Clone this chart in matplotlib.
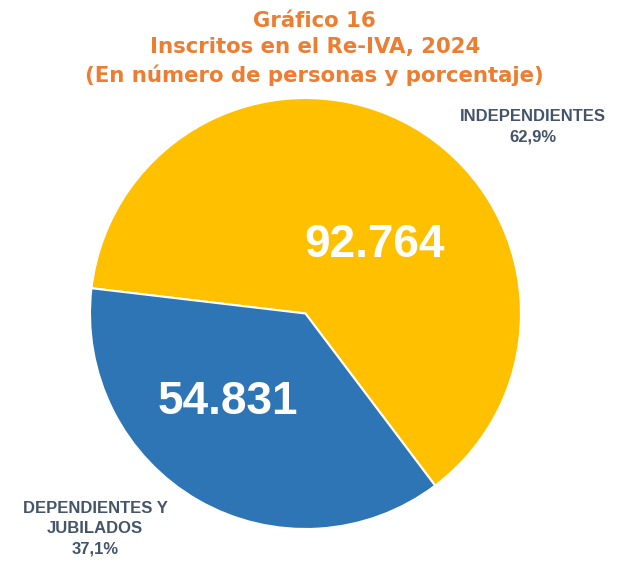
import matplotlib.pyplot as plt

# data
categorias = ['INDEPENDIENTES', 'DEPENDIENTES Y\nJUBILADOS']
personas = [92764, 54831]
porcentajes = ['62,9%', '37,1%']
colores = ['#FFC000', '#2E75B6']

fig = plt.figure(figsize=(6.21, 5.63), dpi=100)
ax = fig.add_axes([0.1449, 0.0604, 0.694, 0.7655])

wedges, _ = ax.pie(personas, colors=colores, startangle=-53, counterclock=True,
                   wedgeprops={'edgecolor': 'white', 'linewidth': 1.5})
ax.set_xlim(-1, 1)
ax.set_ylim(-1, 1)
ax.set_aspect('equal')
ax.axis('off')

# numbers inside slices
num_pos = [(0.3225, 0.318), (-0.36, -0.41)]
for n, (x, y) in zip(personas, num_pos):
    ax.text(x, y, f'{n:,}'.replace(',', '.'), color='white', fontsize=33,
            fontweight='bold', family='Liberation Sans', ha='center', va='center')

# outer labels
lab_pos = [(1.056, 0.865), (-0.977, -0.998)]
for c, p, (x, y) in zip(categorias, porcentajes, lab_pos):
    ax.text(x, y, c + '\n' + p, color='#44546A', fontsize=12, fontweight='bold',
            family='Liberation Sans', ha='center', va='center', linespacing=1.45,
            clip_on=False)

titulo = 'Gráfico 16\nInscritos en el Re-IVA, 2024\n(En número de personas y porcentaje)'
fig.text(0.507, 0.9805, titulo, color='#ED7D31', fontsize=15.3, fontweight='bold',
         family='DejaVu Sans', ha='center', va='top', linespacing=1.4)

fig.savefig('out.png', dpi=100)
